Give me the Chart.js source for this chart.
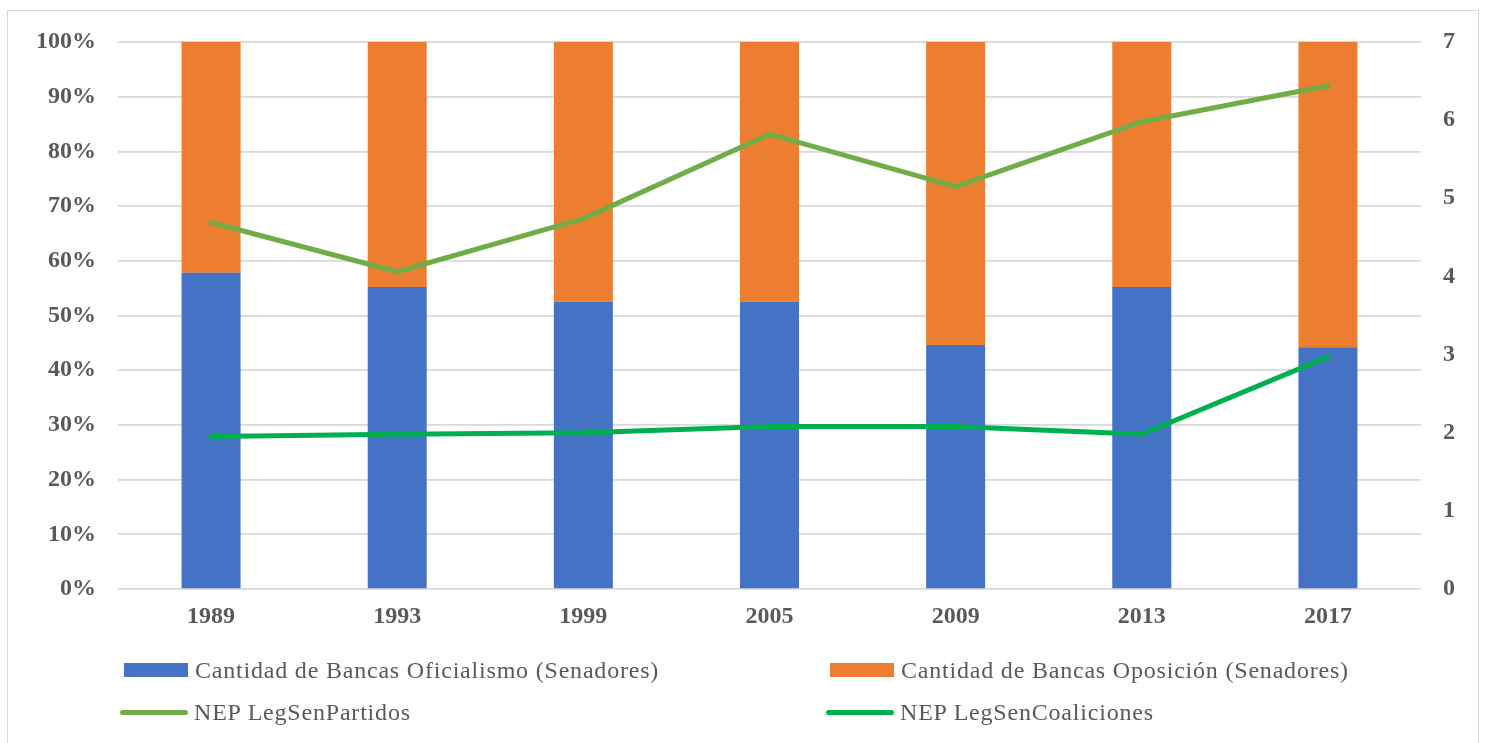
<!DOCTYPE html>
<html>
<head>
<meta charset="utf-8">
<script src="https://cdn.jsdelivr.net/npm/chart.js@4/dist/chart.umd.min.js"></script>
<style>
    body { margin: 0; background: #fff; }
    #frame {
        position: absolute; left: 7px; top: 10px; width: 1470px; height: 740px;
        border: 1.5px solid #d9d9d9; border-bottom: none;
    }
    #chart-wrap { position: absolute; left: 0; top: 0; width: 1489px; height: 650px; }
    #legend {
        position: absolute; left: 122px; top: 649px; width: 1300px;
        display: grid; grid-template-columns: 706px 600px; row-gap: 0;
        font-family: 'Liberation Serif', 'Times New Roman', serif;
        font-size: 24px; color: #595959; letter-spacing: 0.8px;
    }
    .legend-item { display: flex; align-items: center; height: 42px; white-space: nowrap; }
    .legend-item .mark { flex: none; margin-right: 6px; }
</style>
</head>
<body>
<div id="frame"></div>
<div id="chart-wrap"><canvas id="myChart" width="1489" height="650"></canvas></div>
<div id="legend"></div>

<script>
// Senado: reparto de bancas (%) y número efectivo de partidos
const years = ['1989', '1993', '1999', '2005', '2009', '2013', '2017'];
const oficialismo = [57.8, 55.2, 52.5, 52.5, 44.6, 55.2, 44.2];
const oposicion = [42.2, 44.8, 47.5, 47.5, 55.4, 44.8, 55.8];
const nepPartidos = [4.69, 4.06, 4.74, 5.82, 5.15, 5.98, 6.44];
const nepCoaliciones = [1.95, 1.98, 2.00, 2.08, 2.08, 1.98, 2.97];
const rightTicks = [0, 1, 2, 3, 4, 5, 6, 7];

const tickFont = { family: "'Liberation Serif', 'Times New Roman', serif", size: 24, weight: 'bold' };
const tickColor = '#595959';

const ctx = document.getElementById('myChart').getContext('2d');
const myChart = new Chart(ctx, {
    type: 'bar',
    data: {
        labels: years,
        datasets: [
            {
                label: 'Cantidad de Bancas Oficialismo (Senadores)',
                data: oficialismo,
                backgroundColor: '#4472C4',
                yAxisID: 'y',
                order: 2
            },
            {
                label: 'Cantidad de Bancas Oposición (Senadores)',
                data: oposicion,
                backgroundColor: '#ED7D31',
                yAxisID: 'y',
                order: 2
            },
            {
                type: 'line',
                label: 'NEP LegSenPartidos',
                data: nepPartidos,
                borderColor: '#70AD47',
                backgroundColor: '#70AD47',
                borderWidth: 5,
                borderCapStyle: 'round',
                borderJoinStyle: 'round',
                pointRadius: 0,
                tension: 0,
                yAxisID: 'y2',
                order: 1
            },
            {
                type: 'line',
                label: 'NEP LegSenCoaliciones',
                data: nepCoaliciones,
                borderColor: '#00B050',
                backgroundColor: '#00B050',
                borderWidth: 5,
                borderCapStyle: 'round',
                borderJoinStyle: 'round',
                pointRadius: 0,
                tension: 0,
                yAxisID: 'y2',
                order: 1
            }
        ]
    },
    options: {
        responsive: false,
        animation: false,
        devicePixelRatio: 1,
        layout: { padding: { top: 42, left: 0, right: 0, bottom: 0 } },
        datasets: {
            bar: { categoryPercentage: 1, barPercentage: 0.317 }
        },
        plugins: {
            legend: { display: false },
            tooltip: { enabled: false }
        },
        scales: {
            x: {
                stacked: true,
                grid: { display: false },
                border: { display: false },
                ticks: { font: tickFont, color: tickColor, padding: 5 },
                afterFit: scale => { scale.height = 61; }
            },
            y: {
                position: 'left',
                stacked: true,
                min: 0,
                max: 100,
                ticks: {
                    stepSize: 10,
                    font: tickFont,
                    color: tickColor,
                    padding: 22,
                    callback: v => v + '%'
                },
                grid: { color: '#d9d9d9', lineWidth: 1.7, drawTicks: false },
                border: { display: false },
                afterFit: scale => { scale.width = 118; }
            },
            y2: {
                position: 'right',
                min: 0,
                max: 7,
                afterBuildTicks: scale => { scale.ticks = rightTicks.map(v => ({ value: v })); },
                ticks: { font: tickFont, color: tickColor, padding: 22 },
                grid: { display: false, drawTicks: false },
                border: { display: false },
                afterFit: scale => { scale.width = 68; }
            }
        }
    }
});

// Legend in two columns, built from the chart's own datasets
function displayLegend(chart) {
    const legendDiv = document.getElementById('legend');
    let legendHTML = '';
    // row 1: the two bar series, row 2: the two lines
    [0, 1, 2, 3].forEach(i => {
        const ds = chart.data.datasets[i];
        const isLine = ds.type === 'line';
        const mark = isLine
            ? `<span class="mark" style="width:68px;height:5px;border-radius:3px;background:${ds.borderColor};margin-left:-2px;"></span>`
            : `<span class="mark" style="width:64px;height:14px;background:${ds.backgroundColor};margin-left:2px;margin-right:7px;"></span>`;
        legendHTML += `<div class="legend-item">${mark}<span>${ds.label}</span></div>`;
    });
    legendDiv.innerHTML = legendHTML;
}

displayLegend(myChart);
</script>
</body>
</html>
